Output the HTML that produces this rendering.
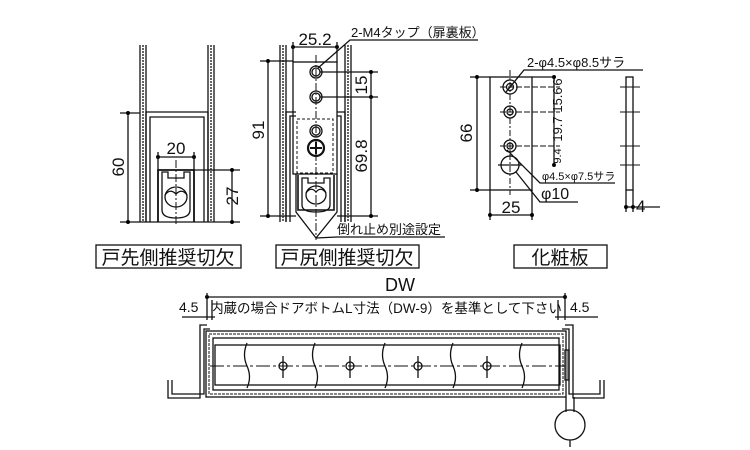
<!DOCTYPE html>
<html><head><meta charset="utf-8"><style>
html,body{margin:0;padding:0;background:#fff;width:750px;height:450px;overflow:hidden}
text{font-family:"Liberation Sans","Noto Sans CJK JP",sans-serif;fill:#111}
</style></head><body>
<svg width="750" height="450" viewBox="0 0 750 450" xmlns="http://www.w3.org/2000/svg">
<defs><marker id="d" viewBox="0 0 4 4" refX="2" refY="2" markerWidth="3" markerHeight="3"><circle cx="2" cy="2" r="2" fill="#000"/></marker></defs>
<g stroke="#111" fill="none" stroke-width="1.3">
<!-- LEFT VIEW -->
<line x1="140" y1="45" x2="140" y2="222"/><line x1="143" y1="45" x2="143" y2="222" stroke-dasharray="2 1"/><line x1="146" y1="45" x2="146" y2="222"/>
<line x1="208" y1="45" x2="208" y2="222"/><line x1="211" y1="45" x2="211" y2="222" stroke-dasharray="2 1"/><line x1="214" y1="45" x2="214" y2="222"/>
<path d="M146 222 V112 H208 V222"/><path d="M150 222 V117 H204 V222"/>
<path d="M158 222 V170 H194 V222" stroke-width="1.8"/>
<path d="M162 210 Q162 218 176 218 Q190 218 190 210 V172 H184 V178 H168 V172 H162 Z"/>
<ellipse cx="176" cy="197" rx="11" ry="10"/>
<path d="M165 195 Q170 188 176 194 Q182 188 187 195"/>
<line x1="176" y1="160" x2="176" y2="225" stroke-dasharray="8 2 2 2" stroke-width="1"/>
<line x1="120" y1="113" x2="140" y2="113"/><line x1="120" y1="222" x2="240" y2="222"/>
<line x1="128" y1="113" x2="128" y2="222" marker-start="url(#d)" marker-end="url(#d)"/>
<line x1="158" y1="157" x2="194" y2="157" marker-start="url(#d)" marker-end="url(#d)"/>
<line x1="158" y1="152" x2="158" y2="170"/><line x1="194" y1="152" x2="194" y2="170"/>
<line x1="194" y1="170" x2="240" y2="170"/>
<line x1="232" y1="170" x2="232" y2="222" marker-start="url(#d)" marker-end="url(#d)"/>
<!-- MIDDLE VIEW -->
<line x1="280" y1="45" x2="280" y2="222"/><line x1="283" y1="45" x2="283" y2="222" stroke-dasharray="2 1"/><line x1="286" y1="45" x2="286" y2="222"/>
<line x1="345" y1="45" x2="345" y2="222"/><line x1="348" y1="45" x2="348" y2="222" stroke-dasharray="2 1"/><line x1="351" y1="45" x2="351" y2="222"/>
<path d="M286 222 V112 H296"/><path d="M337 112 H345 V222"/><path d="M290 222 V116 H296"/><path d="M337 116 H341 V222"/>
<rect x="293" y="62" width="44" height="112"/>
<rect x="297" y="119" width="36" height="54" stroke-dasharray="3 2" stroke-width="1"/>
<path d="M296 174 V212 L316 238 L337 212 V174"/>
<path d="M298 175 V210 H334 V175" stroke-width="1.6"/>
<path d="M302 205 Q302 212 316 212 Q330 212 330 205 V178 H324 V183 H308 V178 H302 Z"/>
<ellipse cx="316" cy="195" rx="10" ry="9"/>
<path d="M306 193 Q311 186 316 192 Q321 186 326 193"/>
<line x1="316" y1="55" x2="316" y2="240" stroke-dasharray="8 2 2 2" stroke-width="1"/>
<circle cx="316" cy="72" r="6"/><circle cx="316" cy="72" r="4"/>
<circle cx="316" cy="97" r="6"/><circle cx="316" cy="97" r="4"/>
<circle cx="316" cy="131" r="6"/><circle cx="316" cy="131" r="4"/>
<circle cx="316" cy="148" r="8" stroke-width="2.2"/>
<line x1="310" y1="148" x2="322" y2="148" stroke-width="2"/><line x1="316" y1="142" x2="316" y2="154" stroke-width="2"/>
<line x1="260" y1="61" x2="293" y2="61"/><line x1="260" y1="216" x2="296" y2="216"/>
<line x1="268" y1="61" x2="268" y2="216" marker-start="url(#d)" marker-end="url(#d)"/>
<line x1="293" y1="47" x2="337" y2="47" marker-start="url(#d)" marker-end="url(#d)"/>
<line x1="293" y1="42" x2="293" y2="62"/><line x1="337" y1="42" x2="337" y2="62"/>
<line x1="320" y1="72" x2="378" y2="72"/><line x1="320" y1="97" x2="378" y2="97"/><line x1="337" y1="216" x2="378" y2="216"/>
<line x1="371" y1="72" x2="371" y2="97" marker-start="url(#d)" marker-end="url(#d)"/>
<line x1="371" y1="97" x2="371" y2="216" marker-end="url(#d)"/>
<path d="M318 68 L350 40 H478"/>
<path d="M316 238 L337 237 H445"/>
<!-- boxes -->
<rect x="96" y="245" width="145" height="23"/><rect x="276" y="245" width="143" height="23"/><rect x="514" y="245" width="93" height="23"/>
<!-- RIGHT -->
<rect x="490" y="77" width="42" height="113"/>
<line x1="510" y1="70" x2="510" y2="195" stroke-dasharray="6 2 2 2" stroke-width="1"/>
<circle cx="510" cy="87" r="7"/><circle cx="510" cy="87" r="3.5"/>
<circle cx="510" cy="112" r="6"/><circle cx="510" cy="112" r="3"/>
<circle cx="510" cy="146" r="6"/><circle cx="510" cy="146" r="3"/>
<circle cx="510" cy="165" r="9"/>
<line x1="500" y1="87" x2="560" y2="87" stroke-dasharray="6 2" stroke-width="1"/><line x1="500" y1="112" x2="560" y2="112" stroke-dasharray="6 2" stroke-width="1"/>
<line x1="500" y1="146" x2="560" y2="146" stroke-dasharray="6 2" stroke-width="1"/><line x1="498" y1="165" x2="522" y2="165"/>
<line x1="470" y1="77" x2="490" y2="77"/><line x1="470" y1="190" x2="490" y2="190"/>
<line x1="477" y1="77" x2="477" y2="190" marker-start="url(#d)" marker-end="url(#d)"/>
<line x1="490" y1="190" x2="490" y2="220"/><line x1="532" y1="190" x2="532" y2="220"/>
<line x1="490" y1="215" x2="532" y2="215" marker-start="url(#d)" marker-end="url(#d)"/>
<line x1="532" y1="77" x2="556" y2="77"/>
<line x1="554" y1="77" x2="554" y2="165" marker-start="url(#d)" marker-end="url(#d)"/>
<path d="M506 92 L524 70 H643"/>
<path d="M507 150 L540 183 H615"/>
<path d="M516 172 L540 202 H578"/>
<rect x="626" y="77" width="7" height="113"/>
<line x1="620" y1="87" x2="640" y2="87" stroke-width="1"/><line x1="620" y1="112" x2="640" y2="112" stroke-width="1"/><line x1="620" y1="146" x2="640" y2="146" stroke-width="1"/><line x1="620" y1="165" x2="640" y2="165" stroke-width="1"/>
<line x1="626" y1="190" x2="626" y2="212"/><line x1="633" y1="190" x2="633" y2="212"/>
<line x1="626" y1="207" x2="633" y2="207" marker-start="url(#d)" marker-end="url(#d)"/><line x1="633" y1="207" x2="660" y2="207"/>
<!-- BOTTOM -->
<line x1="207" y1="297" x2="565" y2="297" marker-start="url(#d)" marker-end="url(#d)"/>
<line x1="207" y1="293" x2="207" y2="320"/><line x1="565" y1="293" x2="565" y2="320"/>
<line x1="182" y1="317" x2="215" y2="317"/><line x1="555" y1="317" x2="598" y2="317"/>
<line x1="212" y1="300" x2="212" y2="320"/><line x1="558" y1="300" x2="558" y2="320"/>
<path d="M168 380 V398 H200 V325 H207"/><path d="M172 380 V394 H204 V329 H210"/>
<path d="M604 380 V398 H573 V325 H565"/><path d="M600 380 V394 H569 V329 H562"/>
<rect x="206" y="331" width="360" height="66"/>
<rect x="209" y="334" width="354" height="60" stroke-dasharray="3 1" stroke-width="1"/>
<rect x="213" y="338" width="346" height="52"/>
<rect x="215" y="345" width="345" height="40"/>
<line x1="210" y1="366" x2="565" y2="366" stroke-dasharray="14 3 3 3" stroke-width="1"/>
<g>
<path d="M247 343 Q242 355 247 366 Q252 377 247 388"/>
<path d="M315 343 Q310 355 315 366 Q320 377 315 388"/>
<path d="M385 343 Q380 355 385 366 Q390 377 385 388"/>
<path d="M453 343 Q448 355 453 366 Q458 377 453 388"/>
<path d="M522 343 Q517 355 522 366 Q527 377 522 388"/>
</g>
<circle cx="283" cy="366" r="4"/><circle cx="350" cy="366" r="4"/><circle cx="418" cy="366" r="4"/><circle cx="487" cy="366" r="4"/>
<line x1="283" y1="356" x2="283" y2="378"/><line x1="350" y1="356" x2="350" y2="378"/><line x1="418" y1="356" x2="418" y2="378"/><line x1="487" y1="356" x2="487" y2="378"/>
<rect x="565" y="350" width="4" height="30" fill="#888"/>
<line x1="566" y1="397" x2="566" y2="412"/><line x1="574" y1="397" x2="574" y2="412"/>
<circle cx="570" cy="425" r="15"/><line x1="570" y1="440" x2="570" y2="447"/>
</g>
<g font-size="17">
<text x="176" y="154" text-anchor="middle">20</text>
<text transform="translate(124,167) rotate(-90)" text-anchor="middle">60</text>
<text transform="translate(238,196) rotate(-90)" text-anchor="middle">27</text>
<text x="315" y="45" text-anchor="middle">25.2</text>
<text transform="translate(264,130) rotate(-90)" text-anchor="middle">91</text>
<text transform="translate(367,85) rotate(-90)" text-anchor="middle">15</text>
<text transform="translate(367,156) rotate(-90)" text-anchor="middle">69.8</text>
<text transform="translate(472,133) rotate(-90)" text-anchor="middle">66</text>
<text x="511" y="213" text-anchor="middle">25</text>
<text x="636" y="212">4</text>
<text x="400" y="291" text-anchor="middle" font-size="18">DW</text>
</g>
<g font-size="13">
<text x="351" y="37">2-M4タップ（扉裏板）</text>
<text x="337" y="234">倒れ止め別途設定</text>
<text x="527" y="67">2-φ4.5×φ8.5サラ</text>
<text x="542" y="180" font-size="11">φ4.5×φ7.5サラ</text>
<text x="541" y="199" font-size="16">φ10</text>
<text x="179" y="312" font-size="14">4.5</text>
<text x="570" y="312" font-size="14">4.5</text>
<text x="386" y="313" text-anchor="middle" font-size="13.5">内蔵の場合ドアボトムL寸法（DW-9）を基準として下さい</text>
</g>
<g font-size="13">
<text transform="translate(558,82) rotate(-90)" text-anchor="middle" dy="4">6</text>
<text transform="translate(558,100) rotate(-90)" text-anchor="middle" dy="4">15.6</text>
<text transform="translate(558,129) rotate(-90)" text-anchor="middle" dy="4">19.7</text>
<text transform="translate(558,156) rotate(-90)" text-anchor="middle" font-size="11" dy="3">9.4</text>
</g>
<g font-size="19">
<text x="168" y="264" text-anchor="middle">戸先側推奨切欠</text>
<text x="347" y="264" text-anchor="middle">戸尻側推奨切欠</text>
<text x="560" y="264" text-anchor="middle">化粧板</text>
</g>
</svg>
</body></html>
